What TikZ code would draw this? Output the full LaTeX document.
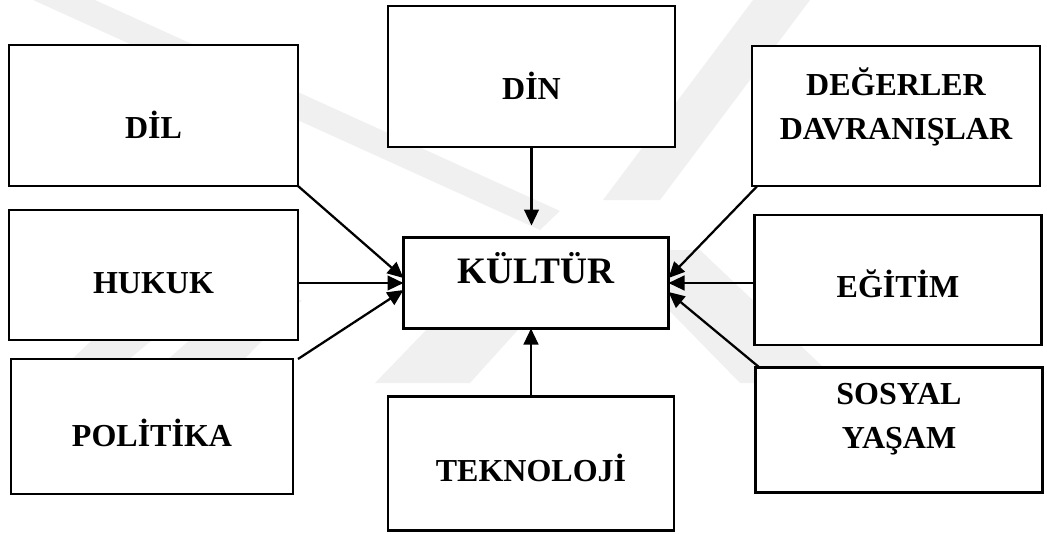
\documentclass[tikz,border=0pt]{standalone}
\usepackage{fontspec}
\setmainfont{Liberation Serif}
\usetikzlibrary{arrows.meta,calc}
\definecolor{wmark}{gray}{0.94}
\begin{document}
\begin{tikzpicture}[x=0.75pt,y=-0.75pt,
  box/.style={draw=black, fill=white, line width=1.7pt, rectangle, inner sep=0pt, outer sep=0pt},
  lbl/.style={anchor=base, inner sep=0pt, font=\fontsize{24}{26}\selectfont\bfseries},
  biglbl/.style={anchor=base, inner sep=0pt, font=\fontsize{28}{30}\selectfont\bfseries},
  arr/.style={line width=1.7pt, -{Triangle[length=12pt,width=11pt]}},
  wm/.style={fill=wmark, draw=none}]
\useasboundingbox (0,0) rectangle (1047,533);
% faint background watermark
\fill[wm] (33,0) -- (95,0) -- (560,211) -- (540,230) -- cycle;
\fill[wm] (753,0) -- (810,0) -- (660,200) -- (603,200) -- cycle;
\fill[wm] (375,383) -- (470,383) -- (545,300) -- (455,300) -- cycle;
\fill[wm] (740,383) -- (840,383) -- (700,250) -- (610,250) -- cycle;
\fill[wm] (47,383) -- (100,383) -- (201,300) -- (134,300) -- cycle;
\fill[wm] (141,383) -- (221,383) -- (302,300) -- (235,300) -- cycle;
% boxes
\node[box, minimum width=216.75pt, minimum height=105.75pt] (dil) at (153.5,115.5) {};
\node[box, minimum width=216.75pt, minimum height=97.5pt] (hukuk) at (153.5,275) {};
\node[box, minimum width=211.5pt, minimum height=101.25pt] (pol) at (152,426.5) {};
\node[box, minimum width=215.25pt, minimum height=105.75pt] (din) at (531.5,76.5) {};
\node[box, minimum width=198.75pt, minimum height=68.25pt] (kultur) at (536,283) {};
\node[box, minimum width=214.5pt, minimum height=100.5pt] (tek) at (531,463.5) {};
\node[box, minimum width=216pt, minimum height=105pt] (deg) at (896,116) {};
\node[box, minimum width=215.25pt, minimum height=97.5pt] (egitim) at (898,280) {};
\node[box, minimum width=215.25pt, minimum height=93.75pt] (sosyal) at (899,430) {};
% texts
\node[lbl] (dilt) at (153.5,138) {DİL};
\node[lbl] (hukukt) at (153.5,293) {HUKUK};
\node[lbl] (polt) at (152,446) {POLİTİKA};
\node[lbl] (dint) at (531.5,99) {DİN};
\node[biglbl] (kulturt) at (536,283) {KÜLTÜR};
\node[lbl] (tekt) at (531,481) {TEKNOLOJİ};
\node[lbl] (degt) at (896,95) {DEĞERLER};
\node[lbl] (davt) at (896,139) {DAVRANIŞLAR};
\node[lbl] (egitimt) at (898,297) {EĞİTİM};
\node[lbl] (sosyalt) at (899,404) {SOSYAL};
\node[lbl] (yasamt) at (899,448) {YAŞAM};
% arrows
\draw[arr] (dil.south east) -- ([yshift=3.75pt]kultur.west);
\draw[arr] (kultur.west -| hukuk.east) -- (kultur.west);
\draw[arr] ([xshift=3.75pt]pol.north east) -- ([yshift=-5.25pt]kultur.west);
\draw[arr] (din.south) -- ($(din.south |- kultur.north)+(0,-12)$);
\draw[arr] (tek.north) -- (tek.north |- kultur.south);
\draw[arr] ([xshift=4pt]deg.south west) -- ([yshift=3.75pt]kultur.east);
\draw[arr] (kultur.east -| egitim.west) -- (kultur.east);
\draw[arr] ([xshift=3pt]sosyal.north west) -- ([yshift=-6.75pt]kultur.east);
\end{tikzpicture}
\end{document}
